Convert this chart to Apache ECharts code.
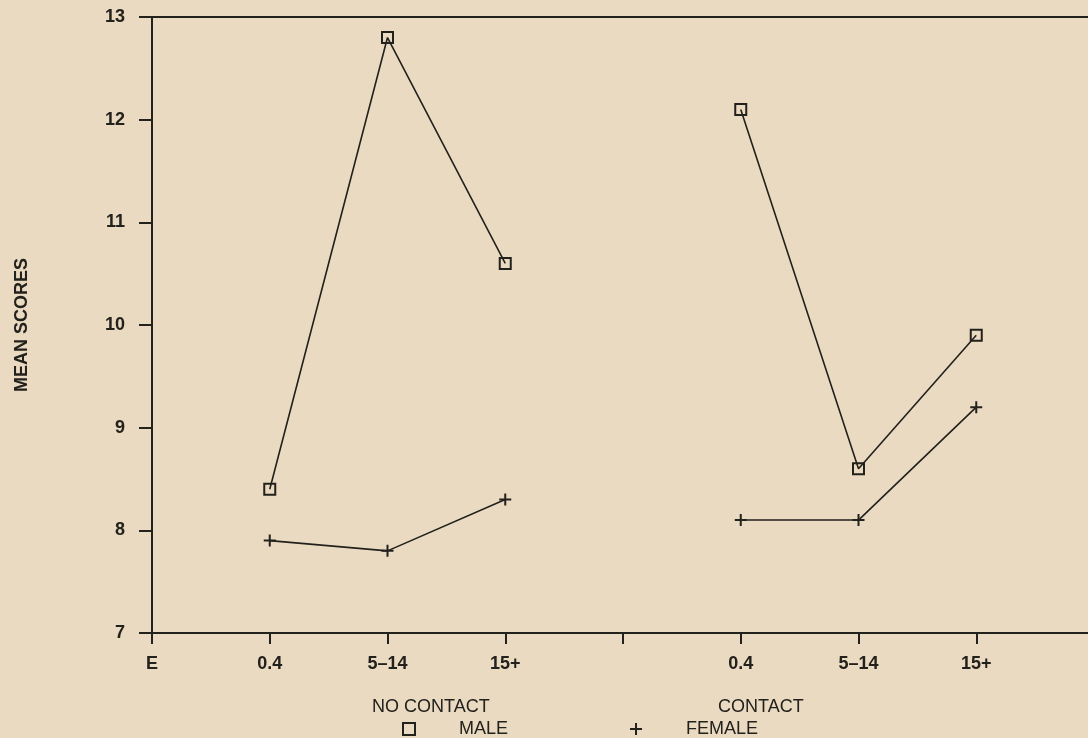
<!DOCTYPE html>
<html>
<head>
<meta charset="utf-8">
<script src="https://cdn.jsdelivr.net/npm/echarts@6/dist/echarts.min.js"></script>
<style>
  html, body { margin: 0; padding: 0; background: #E9DAC1; }
  #chart { width: 1088px; height: 738px; }
</style>
</head>
<body>
<div id="chart"></div>
<script>
// categories along the bottom axis (blank slots separate the two groups)
var categories = ['E', '0.4', '5\u201314', '15+', '', '0.4', '5\u201314', '15+', ''];
var maleScores = [null, 8.4, 12.8, 10.6, null, 12.1, 8.6, 9.9, null];
var femaleScores = [null, 7.9, 7.8, 8.3, null, 8.1, 8.1, 9.2, null];
var groupLabels = ['NO CONTACT', 'CONTACT'];

var ink = '#23211c';
var font = '"Liberation Sans", Arial, sans-serif';
var plusPath = 'path://M0,6H12M6,0V12';

var myChart = echarts.init(document.getElementById('chart'));

var option = {
  backgroundColor: '#E9DAC1',
  animation: false,
  grid: { left: 152, top: 17, bottom: 105, right: -6, outerBoundsMode: 'none', containLabel: false },
  xAxis: [
    {
      type: 'category',
      data: categories,
      boundaryGap: false,
      axisLine: { lineStyle: { color: ink, width: 2 } },
      axisTick: { show: true, length: 11, lineStyle: { color: ink, width: 2 } },
      axisLabel: { color: ink, fontFamily: font, fontSize: 18, fontWeight: 'bold', margin: 22, interval: 0 },
      splitLine: { show: false }
    },
    {
      type: 'category',
      data: categories,
      position: 'top',
      boundaryGap: false,
      axisLine: { lineStyle: { color: ink, width: 2 } },
      axisTick: { show: false },
      axisLabel: { show: false }
    }
  ],
  yAxis: {
    type: 'value',
    min: 7,
    max: 13,
    interval: 1,
    name: 'MEAN SCORES',
    nameLocation: 'middle',
    nameGap: 121,
    nameTextStyle: { color: ink, fontFamily: font, fontSize: 18, fontWeight: 'bold' },
    axisLine: { show: true, lineStyle: { color: ink, width: 2 } },
    axisTick: { show: true, length: 13, lineStyle: { color: ink, width: 2 } },
    axisLabel: { color: ink, fontFamily: font, fontSize: 18, fontWeight: 'bold', margin: 27 },
    splitLine: { show: false }
  },
  legend: {
    left: 402,
    top: 720,
    padding: 0,
    itemGap: 121,
    itemWidth: 12,
    itemHeight: 12,
    textStyle: { color: ink, fontFamily: font, fontSize: 18, padding: [0, 0, 0, 39] },
    data: [
      { name: 'MALE', icon: 'rect', itemStyle: { color: 'rgba(0,0,0,0)', borderColor: ink, borderWidth: 2 } },
      { name: 'FEMALE', icon: plusPath, itemStyle: { color: 'rgba(0,0,0,0)', borderColor: ink, borderWidth: 2 } }
    ]
  },
  graphic: [
    { type: 'text', left: 372, top: 698, style: { text: groupLabels[0], fill: ink, font: '18px ' + font } },
    { type: 'text', left: 718, top: 698, style: { text: groupLabels[1], fill: ink, font: '18px ' + font } }
  ],
  series: [
    {
      name: 'MALE',
      type: 'line',
      data: maleScores,
      connectNulls: false,
      symbol: 'rect',
      symbolSize: 11,
      lineStyle: { color: ink, width: 1.6 },
      itemStyle: { color: 'rgba(0,0,0,0)', borderColor: ink, borderWidth: 2 },
      z: 3
    },
    {
      name: 'FEMALE',
      type: 'line',
      data: femaleScores,
      connectNulls: false,
      symbol: plusPath,
      symbolSize: 12,
      lineStyle: { color: ink, width: 1.6 },
      itemStyle: { color: 'rgba(0,0,0,0)', borderColor: ink, borderWidth: 2 },
      z: 3
    }
  ]
};

myChart.setOption(option);
</script>
</body>
</html>
